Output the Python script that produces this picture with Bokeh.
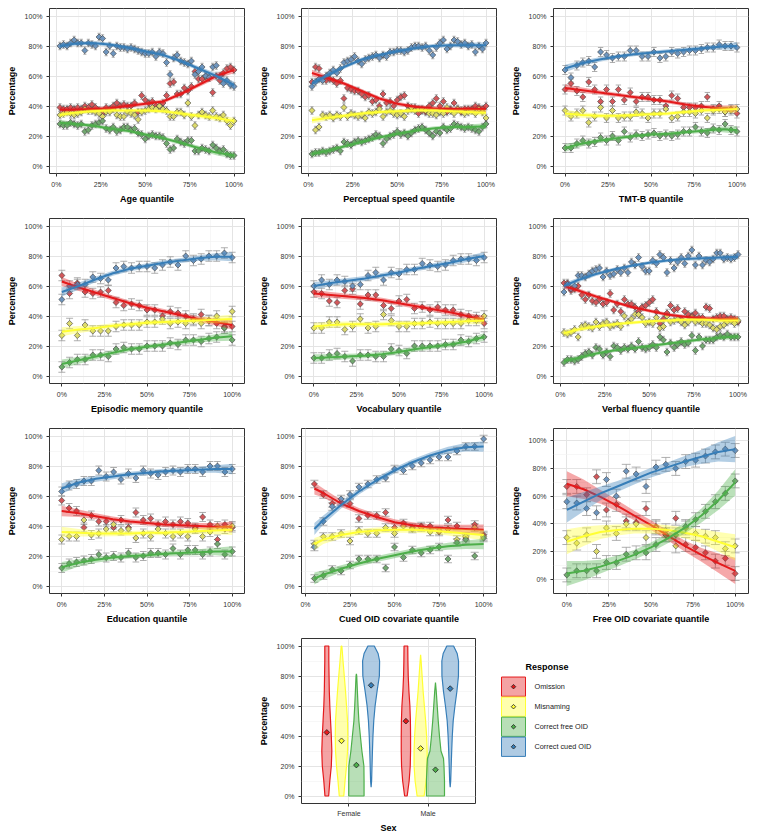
import numpy as np
from bokeh.plotting import figure
from bokeh.layouts import column, row
from bokeh.models import FixedTicker, Spacer, Range1d, CustomJSTickFormatter
from bokeh.embed import file_html
from bokeh.resources import INLINE
from bokeh.core.properties import value

FONT = "Liberation Sans"
SERIES = ["Omission", "Misnaming", "Correct free OID", "Correct cued OID"]
COLORS = ["#E41A1C", "#FFFF33", "#4DAF4A", "#377EB8"]
POINT_FILLS = ["#D2585B", "#DCDA6C", "#72A870", "#6E95BE"]
EB_COLOR = "#9A9A9A"

# ---------------- Age ----------------
age_x = list(range(2, 101, 2))
age_omission = [39,38,38,39,38,39,38,40,39,41, 39,37,35,39,38,40,42,40,41,40, 40,42,36,47,44,42,43,40,40,42, 47,55,56,48,48,52,50,53,63,58, 58,60,59,49,60,57,62,65,66,64]
age_misnaming = [34,35,36,35,34,35,36,38,37,37, 36,35,33,36,36,38,34,33,33,36, 35,34,31,36,37,38,39,38,40,38, 37,33,33,36,36,34,42,33,27,34, 36,34,33,37,33,32,34,30,27,30]
age_free = [28,27,27,29,28,27,28,23,24,27, 28,29,30,25,24,26,23,24,26,26, 24,25,22,21,18,20,21,20,20,19, 15,11,12,18,16,15,17,17,10,10, 12,11,10,14,12,10,11,8,7,7]
age_cued = [80,81,80,82,84,82,82,77,82,81, 80,86,85,76,80,75,80,79,79,78, 79,78,77,76,75,75,76,73,76,75, 69,61,72,74,70,69,68,70,61,63, 66,60,59,66,67,60,55,57,54,53]
age_fit_x = [2,10,20,30,40,50,60,70,80,90,100]
age_fit_omission = [37.5,37.5,38,38.5,40,41.5,43,48,54,60,64]
age_fit_misnaming = [34,35.5,36.5,37,37,37,36.5,35,33.5,32,30]
age_fit_free = [29,28,27,25,23.5,21,18.5,15.5,12,9,7]
age_fit_cued = [80,81.5,82,81,79,76.5,74,70,65,60,54]
age_band = [1.8,1.4,1.3,1.3,1.3,1.3,1.3,1.4,1.5,1.8,2.2]
age_err = 2.5

# ---------------- Perceptual speed ----------------
ps_x = list(range(2, 101, 2))
ps_omission = [56,66,65,58,57,58,57,55,57,45, 52,51,50,50,48,46,47,43,44,40, 48,42,43,40,44,46,47,40,38,39, 35,37,36,40,42,45,40,43,36,38, 42,38,36,38,38,38,40,39,38,40]
ps_misnaming = [37,24,26,34,33,34,32,34,33,39, 33,35,34,33,34,32,36,35,36,38, 33,36,37,35,34,35,33,37,39,37, 38,38,37,35,35,34,36,35,39,37, 35,38,37,35,36,37,35,38,36,32]
ps_free = [8,9,9,10,9,10,11,12,10,16, 15,14,16,17,16,17,18,19,21,20, 15,18,20,21,23,21,22,20,22,24, 25,26,24,22,20,23,22,26,24,25, 28,27,26,25,26,25,24,23,26,28]
ps_cued = [53,56,58,57,60,62,64,62,65,69, 70,71,73,70,68,71,72,73,74,72, 74,73,76,76,77,77,76,77,79,80, 80,79,80,77,74,79,82,84,78,80, 84,83,81,82,80,81,76,80,78,82]
ps_fit_x = [2,10,20,30,40,50,60,70,80,90,100]
ps_fit_omission = [62,59,55,50,45,41.5,39.5,38.5,38,38,38]
ps_fit_misnaming = [30.5,32,33.5,35,36,36.5,37,37,36.5,36,35.5]
ps_fit_free = [8,10,13,16,19,21.5,23.5,25,26,26,26.5]
ps_fit_cued = [55,60,66,71,74,76.5,78.5,80,80.5,80.5,80.5]
ps_band = [2.2,1.6,1.4,1.3,1.3,1.3,1.3,1.3,1.4,1.6,2.0]
ps_err = 2.5

# ---------------- TMT-B ----------------
tmt_x = [round(i * 100 / 29, 2) for i in range(30)]
tmt_omission = [51,55,50,46,56,51,43,51,43,51, 44,49,43,46,46,44,44,40,47,45, 39,39,39,40,46,38,40,36,38,35]
tmt_misnaming = [37,33,35,37,29,33,39,32,37,32, 33,33,36,35,32,35,35,38,32,33, 36,36,35,37,32,37,38,36,37,38]
tmt_free = [12,12,15,17,15,16,19,17,20,17, 23,19,21,20,21,22,20,21,20,21, 23,23,26,23,22,25,24,28,24,23]
tmt_cued = [64,59,67,69,70,66,76,74,72,73, 73,77,77,73,73,76,72,73,76,75, 76,77,77,78,79,79,81,80,80,79]
tmt_fit_x = [0,10,20,30,40,50,60,70,80,90,100]
tmt_fit_omission = [52,50.5,49,47.5,46,44.5,43,41,39.5,38.5,38]
tmt_fit_misnaming = [35,34,33.5,33.5,34,34.5,35,36,37,37.5,38]
tmt_fit_free = [12,15,17,18.5,20,21,21.5,22.5,23.5,24.5,24]
tmt_fit_cued = [65,68.5,71,73,74.5,75.5,76.5,77.5,78.5,79.5,80]
tmt_band = [2.5,1.8,1.5,1.4,1.4,1.4,1.4,1.4,1.5,1.8,2.5]
tmt_err = 3.0

# ---------------- Episodic memory ----------------
em_x = [round(i * 100 / 22, 2) for i in range(23)]
em_omission = [67,55,62,56,55,56,57,49,47,48, 47,44,44,40,43,42,40,38,41,37, 35,33,33]
em_misnaming = [27,35,27,34,30,30,30,33,34,34, 34,36,36,38,35,36,35,37,35,37, 40,32,43]
em_free = [6,9,11,11,14,14,13,18,19,18, 18,20,20,20,22,21,24,24,23,25, 26,32,24]
em_cued = [51,60,61,61,66,65,64,72,73,72, 73,73,72,74,76,74,80,77,78,80, 80,82,79]
em_fit_x = [0,10,20,30,40,50,60,70,80,90,100]
em_fit_omission = [63,59,55.5,52,48.5,45.5,43,40.5,38,36,34]
em_fit_misnaming = [29.5,31,32,33.5,34.5,35.5,36,36.5,37,37.5,38]
em_fit_free = [8,10.5,13,15.5,18,19.5,21,22.5,24,25.5,26.5]
em_fit_cued = [56,60,64.5,68.5,71.5,73.5,75.5,77,78.5,79.5,79.5]
em_band = [3,2.3,1.9,1.7,1.6,1.6,1.6,1.7,1.9,2.3,3]
em_err = 3.5

# ---------------- Vocabulary ----------------
voc_x = [round(i * 100 / 22, 2) for i in range(23)]
voc_omission = [56,55,50,49,57,58,48,54,54,47, 45,50,51,45,46,44,46,44,44,41, 40,39,35]
voc_misnaming = [32,32,36,36,31,33,38,32,33,41, 37,33,33,35,35,36,35,35,35,35, 37,37,40]
voc_free = [12,12,14,15,13,10,14,14,13,13, 18,17,15,20,20,20,20,21,21,24, 23,25,26]
voc_cued = [60,64,61,64,63,60,61,67,69,64, 69,68,71,71,75,74,73,74,77,78, 78,77,79]
voc_fit_x = [0,10,20,30,40,50,60,70,80,90,100]
voc_fit_omission = [55,54,53,52,50.5,48.5,46.5,44.5,42.5,40,37.5]
voc_fit_misnaming = [33,34,34.5,34.5,34.5,35,35,35.5,36,36.5,37]
voc_fit_free = [12,12.5,13,13.5,14.5,16,18,19.5,21,23,26]
voc_fit_cued = [60,62,63.5,65,67,69,71.5,73.5,75.5,78,80]
voc_band = [2.5,2,1.8,1.7,1.6,1.6,1.6,1.7,1.8,2,2.5]
voc_err = 3.5

# ---------------- Verbal fluency ----------------
vf_x = list(range(2, 101, 2))
vf_omission = [62,62,57,58,60,54,51,54,50,49, 51,48,49,55,44,48,43,51,48,48, 46,43,46,47,49,51,43,35,38,42, 47,44,45,38,43,41,40,42,39,39, 46,45,38,39,40,40,38,39,38,36]
vf_misnaming = [29,28,29,31,26,33,34,33,32,36, 33,35,36,33,34,35,33,40,36,38, 41,41,39,35,36,35,39,32,33,40, 36,37,38,36,34,36,39,36,37,35, 35,34,32,31,33,34,36,37,35,37]
vf_free = [9,11,11,10,11,13,15,16,14,19, 18,14,16,13,20,19,17,19,18,20, 18,23,19,18,19,21,19,26,24,16, 22,19,21,23,21,22,27,17,26,20, 24,24,24,26,27,26,28,26,26,26]
vf_cued = [56,61,58,60,67,67,66,68,70,71, 72,66,70,67,68,71,69,72,69,76, 74,79,73,70,70,77,75,81,79,69, 77,72,76,79,75,80,84,74,80,74, 77,76,78,82,82,78,79,78,79,81]
vf_fit_x = [2,10,20,30,40,50,60,70,80,90,100]
vf_fit_omission = [60,57,53,49.5,46,43.5,41,39.5,38.5,38,38]
vf_fit_misnaming = [28.5,31,33,34.5,35.5,36.5,37,37.5,37.5,37,37]
vf_fit_free = [10,12,15,17,18.5,20,21.5,23,24.5,25.5,26.5]
vf_fit_cued = [60,64,68,71,73.5,75.5,77,78,78.5,79,79.5]
vf_band = [2,1.5,1.3,1.2,1.2,1.2,1.2,1.2,1.3,1.5,2]
vf_err = 2.5

# ---------------- Education ----------------
ed_x = [round(i * 100 / 23, 2) for i in range(24)]
ed_omission = [57,52,50,39,47,43,43,39,44,39, 49,44,45,41,43,41,43,42,39,46, 41,31,41,39]
ed_misnaming = [31,33,33,44,34,35,38,41,37,38, 32,35,33,38,35,33,35,33,38,33, 36,40,38,40]
ed_free = [12,15,16,17,18,21,19,20,19,22, 19,20,22,22,21,25,21,24,24,21, 23,28,21,23]
ed_cued = [63,67,68,70,70,77,73,76,71,75, 72,77,75,74,76,77,76,78,78,76, 80,80,76,78]
ed_fit_x = [0,10,20,30,40,50,60,70,80,90,100]
ed_fit_omission = [50,48.5,46.5,44.5,43,42,41,40.5,40,39.5,39.5]
ed_fit_misnaming = [36,35.5,35,35,35,35.5,35.5,36,36.5,37,37.5]
ed_fit_free = [12.5,15.5,17.5,19,20,20.5,21.5,22,22.5,23,23]
ed_fit_cued = [65,69,71.5,73,74.5,75.5,76.5,77,77.5,78,78]
ed_band = [3.5,2.5,2,1.8,1.7,1.7,1.7,1.8,2,2.5,3.5]
ed_err = 3.0

# ---------------- Cued OID covariate ----------------
cue_x = list(range(5, 101, 5))
cue_omission = [68,61,55,56,55,45,47,47,49,39, 42,39,40,40,36,44,40,32,41,34]
cue_misnaming = [28,33,33,35,30,37,35,35,39,35, 40,38,39,36,37,38,31,33,39,33]
cue_free = [5,7,11,10,14,18,18,18,12,26, 19,24,22,24,26,18,29,31,20,32]
cue_cued = [26,43,53,58,61,66,68,71,72,78, 77,80,82,84,86,86,90,93,93,98]
cue_fit_x = [5,10,20,30,40,50,60,70,80,90,100]
cue_fit_omission = [65,62,55,50,46,42.5,40.5,39,38.5,38,37.5]
cue_fit_misnaming = [28,31,34,36,37,37.5,37.5,37,36,35,34]
cue_fit_free = [5,7.5,11.5,15,18,20.5,23,25,26.5,27.5,28]
cue_fit_cued = [38,44,54,63,70.5,77,82.5,87,90.5,92.5,93]
cue_band = [4,3,2.3,2,2,2,2,2,2.3,2.8,3.5]
cue_err = 2.5

# ---------------- Free OID covariate ----------------
fre_x = [round(i * 100 / 17, 2) for i in range(18)]
fre_omission = [67,67,61,74,50,54,42,41,51,38, 32,44,25,23,19,13,15,4]
fre_misnaming = [30,26,32,20,37,33,40,40,30,37, 35,24,37,33,31,30,22,24]
fre_free = [3,6,6,6,12,12,18,19,19,25, 32,32,38,43,49,56,62,71]
fre_cued = [56,55,51,48,72,60,78,76,67,81, 83,80,85,86,89,92,94,93]
fre_fit_x = [0,10,20,30,40,50,60,70,80,90,100]
fre_fit_omission = [69,65,59.5,53,46,39,31.5,24,17.5,11.5,6]
fre_fit_misnaming = [27,31,34,35.5,36.5,36.5,35.5,33.5,31,27,23]
fre_fit_free = [4,6,9,13,17.5,23,29.5,37,46,57,70]
fre_fit_cued = [50,56,62,67,72,77,81,85,88.5,92,94]
fre_band = [9,7,5,4,3.5,3.5,3.5,4,5,7,9.5]
fre_err = 5.0

# ---------------- Sex violins ----------------
SEX = ["Female", "Male"]
female_means = [42.4, 36.8, 20.6, 73.8]
male_means = [49.9, 31.7, 17.5, 71.6]
# violin outlines: y values (%) and full width (x units)
f_om_y = [0,10,20,30,40,50,60,70,80,90,100]
f_om_w = [0.047,0.076,0.114,0.127,0.114,0.095,0.076,0.063,0.057,0.051,0.051]
f_mi_y = [0,10,20,30,40,50,60,70,80,90,100]
f_mi_w = [0.057,0.089,0.127,0.152,0.158,0.152,0.127,0.101,0.070,0.038,0.009]
f_fr_y = [0,10,20,30,40,50,60,70,80,81.5]
f_fr_w = [0.194,0.194,0.190,0.139,0.101,0.063,0.042,0.025,0.009,0.0]
f_cu_y = [5.8,10,20,30,40,50,60,70,80,90,95,100]
f_cu_w = [0.0,0.013,0.023,0.034,0.047,0.067,0.101,0.152,0.209,0.215,0.177,0.080]
m_om_y = [0,10,20,30,40,50,60,70,80,90,100]
m_om_w = [0.032,0.082,0.110,0.118,0.118,0.114,0.101,0.076,0.059,0.051,0.047]
m_mi_y = [0,10,20,30,40,50,60,70,80,90,94.2]
m_mi_w = [0.089,0.139,0.165,0.165,0.152,0.127,0.095,0.063,0.038,0.013,0.0]
m_fr_y = [0,10,20,25,30,40,50,60,70,75.6]
m_fr_w = [0.228,0.228,0.215,0.203,0.139,0.101,0.070,0.044,0.019,0.0]
m_cu_y = [5.8,10,20,30,40,50,60,70,80,90,95,100]
m_cu_w = [0.0,0.013,0.025,0.038,0.053,0.076,0.120,0.171,0.209,0.211,0.177,0.085]
DODGE = [-0.28, -0.094, 0.094, 0.28]

PANELS = [
    dict(xlabel="Age quantile", x=age_x, ys=[age_omission, age_misnaming, age_free, age_cued], err=age_err,
         fx=age_fit_x, fits=[age_fit_omission, age_fit_misnaming, age_fit_free, age_fit_cued], band=age_band),
    dict(xlabel="Perceptual speed quantile", x=ps_x, ys=[ps_omission, ps_misnaming, ps_free, ps_cued], err=ps_err,
         fx=ps_fit_x, fits=[ps_fit_omission, ps_fit_misnaming, ps_fit_free, ps_fit_cued], band=ps_band),
    dict(xlabel="TMT-B quantile", x=tmt_x, ys=[tmt_omission, tmt_misnaming, tmt_free, tmt_cued], err=tmt_err,
         fx=tmt_fit_x, fits=[tmt_fit_omission, tmt_fit_misnaming, tmt_fit_free, tmt_fit_cued], band=tmt_band),
    dict(xlabel="Episodic memory quantile", x=em_x, ys=[em_omission, em_misnaming, em_free, em_cued], err=em_err,
         fx=em_fit_x, fits=[em_fit_omission, em_fit_misnaming, em_fit_free, em_fit_cued], band=em_band),
    dict(xlabel="Vocabulary quantile", x=voc_x, ys=[voc_omission, voc_misnaming, voc_free, voc_cued], err=voc_err,
         fx=voc_fit_x, fits=[voc_fit_omission, voc_fit_misnaming, voc_fit_free, voc_fit_cued], band=voc_band),
    dict(xlabel="Verbal fluency quantile", x=vf_x, ys=[vf_omission, vf_misnaming, vf_free, vf_cued], err=vf_err,
         fx=vf_fit_x, fits=[vf_fit_omission, vf_fit_misnaming, vf_fit_free, vf_fit_cued], band=vf_band),
    dict(xlabel="Education quantile", x=ed_x, ys=[ed_omission, ed_misnaming, ed_free, ed_cued], err=ed_err,
         fx=ed_fit_x, fits=[ed_fit_omission, ed_fit_misnaming, ed_fit_free, ed_fit_cued], band=ed_band),
    dict(xlabel="Cued OID covariate quantile", x=cue_x, ys=[cue_omission, cue_misnaming, cue_free, cue_cued], err=cue_err,
         fx=cue_fit_x, fits=[cue_fit_omission, cue_fit_misnaming, cue_fit_free, cue_fit_cued], band=cue_band),
    dict(xlabel="Free OID covariate quantile", x=fre_x, ys=[fre_omission, fre_misnaming, fre_free, fre_cued], err=fre_err,
         fx=fre_fit_x, fits=[fre_fit_omission, fre_fit_misnaming, fre_fit_free, fre_fit_cued], band=fre_band),
]

PCT = CustomJSTickFormatter(code="return tick.toFixed(0) + '%';")


def style(p, xt, xm, yt, ym):
    xtk = FixedTicker(ticks=xt, minor_ticks=xm)
    ytk = FixedTicker(ticks=yt, minor_ticks=ym)
    p.xaxis.ticker = xtk
    p.xgrid.ticker = xtk
    p.yaxis.ticker = ytk
    p.ygrid.ticker = ytk
    for ax in p.axis:
        ax.axis_line_color = None
        ax.major_tick_line_color = "#333333"
        ax.major_tick_out = 3
        ax.major_tick_in = 0
        ax.minor_tick_line_color = None
        ax.major_label_text_font = FONT
        ax.major_label_text_font_size = "7px"
        ax.major_label_text_color = "#333333"
        ax.major_label_standoff = 3
        ax.axis_label_text_font = FONT
        ax.axis_label_text_font_style = "bold"
        ax.axis_label_text_font_size = "9px"
        ax.axis_label_text_color = "#000000"
        ax.axis_label_standoff = 5
    p.xaxis.axis_label_standoff = 3
    for g in (p.xgrid, p.ygrid):
        g.grid_line_color = "#E4E4E4"
        g.grid_line_width = 1
        g.minor_grid_line_color = "#F1F1F1"
        g.minor_grid_line_width = 0.6
    p.outline_line_color = "#333333"
    p.outline_line_width = 1
    p.background_fill_color = "white"
    p.border_fill_color = "white"


def make_panel(cfg, width):
    x = np.array(cfg["x"], float)
    step = x[1] - x[0]
    cap = 0.45 * step
    xmin, xmax = x.min() - cap, x.max() + cap
    xpad = 0.05 * (xmax - xmin)
    fx = np.array(cfg["fx"], float)
    band = np.array(cfg["band"], float)
    fits = [np.array(f, float) for f in cfg["fits"]]
    lo = min(0.0, min((f - band).min() for f in fits))
    hi = max(100.0, max((f + band).max() for f in fits))
    ypad = 0.05 * (hi - lo)
    p = figure(width=width, height=210,
               x_range=Range1d(xmin - xpad, xmax + xpad), y_range=Range1d(lo - ypad, hi + ypad),
               output_backend="svg", toolbar_location=None,
               min_border_left=49, min_border_right=width - 49 - 195,
               min_border_top=8, min_border_bottom=37,
               x_axis_label=cfg["xlabel"], y_axis_label="Percentage")
    err = cfg["err"]
    for ys in cfg["ys"]:
        y = np.array(ys, float)
        p.segment(x, y - err, x, y + err, line_color=EB_COLOR, line_width=0.8)
        p.segment(x - cap, y - err, x + cap, y - err, line_color=EB_COLOR, line_width=0.8)
        p.segment(x - cap, y + err, x + cap, y + err, line_color=EB_COLOR, line_width=0.8)
    for ys, fc in zip(cfg["ys"], POINT_FILLS):
        p.scatter(x, ys, marker="square", angle=np.pi / 4, size=4.3,
                  fill_color=fc, line_color="#3A3A3A", line_width=0.6)
    for f, c in zip(fits, COLORS):
        p.varea(x=fx, y1=f - band, y2=f + band, fill_color=c, fill_alpha=0.38)
        p.line(fx, f, line_color=c, line_width=2)
    style(p, [0, 25, 50, 75, 100], [12.5, 37.5, 62.5, 87.5],
          [0, 20, 40, 60, 80, 100], [10, 30, 50, 70, 90])
    p.xaxis.formatter = PCT
    p.yaxis.formatter = PCT
    return p


def make_violin():
    p = figure(width=240, height=210, x_range=Range1d(0.4, 2.6), y_range=Range1d(-5, 105),
               output_backend="svg", toolbar_location=None,
               min_border_left=49, min_border_right=17, min_border_top=8, min_border_bottom=37,
               x_axis_label="Sex", y_axis_label="Percentage")
    shapes = [
        [(f_om_y, f_om_w), (f_mi_y, f_mi_w), (f_fr_y, f_fr_w), (f_cu_y, f_cu_w)],
        [(m_om_y, m_om_w), (m_mi_y, m_mi_w), (m_fr_y, m_fr_w), (m_cu_y, m_cu_w)],
    ]
    means = [female_means, male_means]
    xs, ys, cols = [], [], []
    mx, my, mc = [], [], []
    for si in range(len(SEX)):
        for k in range(4):
            yv, wv = shapes[si][k]
            yv = np.array(yv, float)
            hw = np.array(wv, float) / 2
            c0 = si + 1 + DODGE[k]
            xs.append(list(c0 + hw) + list((c0 - hw)[::-1]))
            ys.append(list(yv) + list(yv[::-1]))
            cols.append(COLORS[k])
            mx.append(c0)
            my.append(means[si][k])
            mc.append(COLORS[k])
    p.patches(xs, ys, fill_color=cols, fill_alpha=0.4, line_color=cols, line_width=1.2)
    p.scatter(mx, my, marker="square", angle=np.pi / 4, size=4, fill_color=mc,
              line_color="#222222", line_width=0.8)
    style(p, [1, 2], [], [0, 20, 40, 60, 80, 100], [10, 30, 50, 70, 90])
    p.yaxis.formatter = PCT
    p.xaxis.major_label_overrides = {i + 1: s for i, s in enumerate(SEX)}
    p.xaxis.major_label_text_color = "#333333"
    p.xgrid.minor_grid_line_color = None
    return p


def make_legend():
    p = figure(width=265, height=210, x_range=Range1d(0, 265), y_range=Range1d(210, 0),
               output_backend="svg", toolbar_location=None,
               x_axis_location=None, y_axis_location=None,
               min_border_left=0, min_border_right=0, min_border_top=0, min_border_bottom=0)
    p.grid.visible = False
    p.outline_line_color = None
    n = len(SERIES)
    yc = [61.3 + 25.5 * i for i in range(n)]
    p.rect(x=[21] * n, y=yc, width=24, height=24.5, fill_color=COLORS, fill_alpha=0.4,
           line_color=COLORS, line_width=1)
    p.scatter(x=[21] * n, y=yc, marker="square", angle=np.pi / 4, size=3.2, fill_color=COLORS,
              line_color="#222222", line_width=0.8)
    p.text(x=[42] * n, y=yc, text=SERIES, text_font=value(FONT), text_font_size="7.3px",
           text_baseline="middle", text_color="#1A1A1A")
    p.text(x=[33], y=[36.5], text=["Response"], text_font=value(FONT), text_font_size="9px",
           text_font_style="bold", text_baseline="middle", text_color="#000000")
    return p


rows = []
for r in range(3):
    figs = [make_panel(PANELS[3 * r + c], 252 if c < 2 else 253) for c in range(3)]
    rows.append(row(*figs))
rows.append(row(Spacer(width=252, height=210), make_violin(), make_legend()))
layout = column(*rows)

open("out.html", "w").write(file_html(layout, INLINE))
